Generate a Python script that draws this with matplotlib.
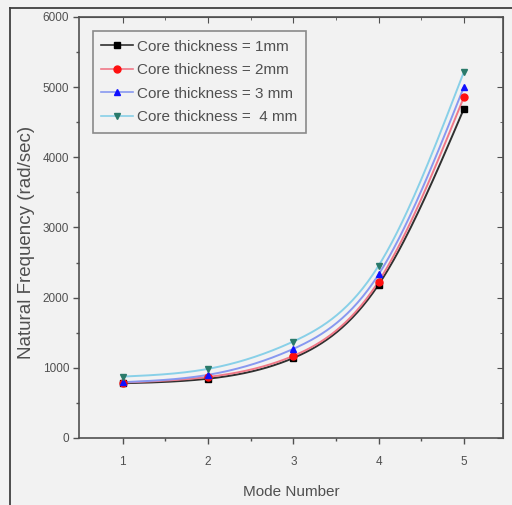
import numpy as np
import matplotlib
matplotlib.use("Agg")
import matplotlib.pyplot as plt
from matplotlib.lines import Line2D

modes = [1, 2, 3, 4, 5]
freq_1mm = [780, 845, 1140, 2185, 4690]
freq_2mm = [790, 870, 1170, 2230, 4855]
freq_3mm = [795, 900, 1270, 2330, 5000]
freq_4mm = [875, 985, 1375, 2455, 5215]
labels = ["Core thickness = 1mm", "Core thickness = 2mm",
          "Core thickness = 3 mm", "Core thickness =  4 mm"]
x_ticks = [1, 2, 3, 4, 5]
y_ticks = [0, 1000, 2000, 3000, 4000, 5000, 6000]

plt.rcParams['font.family'] = ['Liberation Sans', 'DejaVu Sans']
TXT = '#505050'


def smooth(x, y, n=200):
    # natural cubic spline through the data points (for the drawn curve only)
    x = np.asarray(x, float); y = np.asarray(y, float)
    k = len(x); h = np.diff(x)
    A = np.zeros((k, k)); b = np.zeros(k)
    A[0, 0] = A[-1, -1] = 1
    for i in range(1, k - 1):
        A[i, i - 1] = h[i - 1]; A[i, i] = 2 * (h[i - 1] + h[i]); A[i, i + 1] = h[i]
        b[i] = 6 * ((y[i + 1] - y[i]) / h[i] - (y[i] - y[i - 1]) / h[i - 1])
    M = np.linalg.solve(A, b)
    xs = np.linspace(x[0], x[-1], n); ys = np.empty_like(xs)
    for j, t in enumerate(xs):
        i = min(np.searchsorted(x, t, side='right') - 1, k - 2)
        a = x[i + 1] - t; c = t - x[i]
        ys[j] = (M[i] * a**3 + M[i + 1] * c**3) / (6 * h[i]) + \
                (y[i] / h[i] - M[i] * h[i] / 6) * a + (y[i + 1] / h[i] - M[i + 1] * h[i] / 6) * c
    return xs, ys


fig = plt.figure(figsize=(5.12, 5.05), dpi=100, facecolor='#f2f2f2')
ax = fig.add_axes([0.154, 0.1327, 0.828, 0.8337], facecolor='#f2f2f2')

series = [freq_1mm, freq_2mm, freq_3mm, freq_4mm]
line_cols = ['#303030', '#f07888', '#8898f0', '#88d0e8']
mk_cols = ['#000000', '#ff1010', '#1010ff', '#2a7a6a']
markers = ['s', 'o', '^', 'v']

handles = []
for vals, lc, mc, m, lab in zip(series, line_cols, mk_cols, markers, labels):
    xs, ys = smooth(modes, vals)
    ax.plot(xs, ys, color=lc, lw=1.4, zorder=2)
    ax.plot(modes, vals, ls='none', marker=m, color=mc, ms=5, zorder=3)
    handles.append(Line2D([], [], color=lc, lw=1.2, marker=m, mfc=mc, mec=mc, ms=5, label=lab))

ax.set_xlim(0.484, 5.457)
ax.set_ylim(0, 6000)
ax.set_xticks(x_ticks)
ax.set_yticks(y_ticks)
ax.set_xticks([1.5, 2.5, 3.5, 4.5], minor=True)
ax.set_yticks([500, 1500, 2500, 3500, 4500, 5500], minor=True)
ax.tick_params(axis='both', which='both', direction='out', colors='#505050',
               labelcolor=TXT, labelsize=8.5, width=1.0)
ax.tick_params(which='major', length=4)
ax.tick_params(which='minor', length=2.5)
ax.tick_params(axis='x', pad=9)
ax.tick_params(axis='y', pad=3)

# mirrored ticks pointing inward on top and right
axt = ax.secondary_xaxis('top')
axt.set_xticks(x_ticks); axt.set_xticks([1.5, 2.5, 3.5, 4.5], minor=True)
axt.tick_params(which='both', direction='in', labeltop=False, colors='#505050')
axt.tick_params(which='major', length=4); axt.tick_params(which='minor', length=2.5)
axr = ax.secondary_yaxis('right')
axr.set_yticks(y_ticks); axr.set_yticks([500, 1500, 2500, 3500, 4500, 5500], minor=True)
axr.tick_params(which='both', direction='in', labelright=False, colors='#505050')
axr.tick_params(which='major', length=4); axr.tick_params(which='minor', length=2.5)
for s in ax.spines.values():
    s.set_color('#505050'); s.set_linewidth(1.2)
axt.spines['top'].set_color('#505050'); axr.spines['right'].set_color('#505050')

ax.set_xlabel('Mode Number', color=TXT, fontsize=11)
ax.xaxis.set_label_coords(0.5, -0.112)
ax.set_ylabel('Natural Frequency (rad/sec)', color=TXT, fontsize=13.5)
ax.yaxis.set_label_coords(-0.103, 0.465)

leg = ax.legend(handles=handles, loc='upper left', bbox_to_anchor=(0.033, 0.966),
                fontsize=11, frameon=True, fancybox=False, handlelength=2.1,
                handletextpad=0.25, borderpad=0.55, labelspacing=0.62, borderaxespad=0.0)
leg.get_frame().set_edgecolor('#707070')
leg.get_frame().set_facecolor('#f2f2f2')
leg.get_frame().set_linewidth(1.2)
for t in leg.get_texts():
    t.set_color(TXT)

# outer picture frame
fig.add_artist(Line2D([10 / 512, 10 / 512], [0, 1 - 8 / 505], transform=fig.transFigure,
                      color='#404040', lw=1.3))
fig.add_artist(Line2D([10 / 512, 1], [1 - 8 / 505, 1 - 8 / 505], transform=fig.transFigure,
                      color='#404040', lw=1.3))

fig.savefig('out.png', dpi=100, facecolor=fig.get_facecolor())
